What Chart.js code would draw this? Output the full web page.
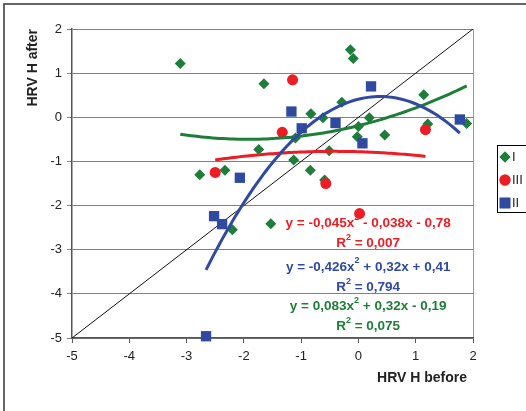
<!DOCTYPE html>
<html><head><meta charset="utf-8">
<script src="https://cdn.jsdelivr.net/npm/chart.js@4.4.0/dist/chart.umd.min.js"></script>
<style>html,body{margin:0;padding:0;background:#fff;overflow:hidden}#wrap{width:526px;height:411px;position:relative}</style>
</head><body><div id="wrap"><canvas id="c" width="526" height="411"></canvas></div>
<script>
// ---- data ----
const seriesNames = ['I', 'III', 'II'];
const xI = [-3.11, -1.65, -1.74, -2.77, -2.33, -0.14, -0.09, -0.83, -0.62, -0.29, 0.19, 0.00, -0.02, 0.46, 1.14, 1.21, 1.89, -1.10, -0.51, -1.13, -0.84, -0.59, -2.20, -1.53];
const yI = [1.22, 0.76, -0.73, -1.30, -1.20, 1.53, 1.33, 0.08, -0.01, 0.34, -0.01, -0.21, -0.44, -0.40, 0.51, -0.15, -0.14, -0.47, -0.76, -0.97, -1.20, -1.42, -2.55, -2.41];
const xIII = [-2.50, -1.15, -1.33, 1.17, -0.57, 0.02];
const yIII = [-1.25, 0.85, -0.34, -0.28, -1.50, -2.18];
const xII = [-2.07, 0.22, -1.17, -0.99, -0.40, 0.07, 1.77, -2.52, -2.38, -2.66];
const yII = [-1.37, 0.70, 0.13, -0.25, -0.13, -0.59, -0.05, -2.24, -2.42, -4.96];
// polynomial trendline coefficients shown on the chart (a, b, c)
const trendI = [0.083, 0.32, -0.19];
const trendIII = [-0.045, -0.038, -0.78];
const trendII = [-0.426, 0.32, 0.41];
const diagX = [-5, 2];
const xTicks = [-5, -4, -3, -2, -1, 0, 1, 2];
const yTicks = [-5, -4, -3, -2, -1, 0, 1, 2];
const xTitle = 'HRV H before';
const yTitle = 'HRV H after';
const eqIII = [['y = -0,045x'], ['2', 1], [' - 0,038x - 0,78']];
const r2III = [['R'], ['2', 1], [' = 0,007']];
const eqII = [['y = -0,426x'], ['2', 1], [' + 0,32x + 0,41']];
const r2II = [['R'], ['2', 1], [' = 0,794']];
const eqI = [['y = 0,083x'], ['2', 1], [' + 0,32x - 0,19']];
const r2I = [['R'], ['2', 1], [' = 0,075']];

const GREEN = '#1f7d3a', RED = '#ee1d25', BLUE = '#2f4aa0';
const FONT = '"Liberation Sans", Arial, sans-serif';

function pts(xs, ys) { return xs.map((x, i) => ({x: x, y: ys[i]})); }
function curve(coef, xs) {
  const lo = Math.min(...xs), hi = Math.max(...xs), n = 80, out = [];
  for (let i = 0; i <= n; i++) {
    const x = lo + (hi - lo) * i / n;
    out.push({x: x, y: coef[0] * x * x + coef[1] * x + coef[2]});
  }
  return out;
}

function drawRich(ctx, segs, cx, cy, color) {
  const base = 'bold 13.5px ' + FONT, sup = 'bold 9px ' + FONT;
  let w = 0;
  segs.forEach(s => { ctx.font = s[1] ? sup : base; w += ctx.measureText(s[0]).width; });
  let x = cx - w / 2;
  ctx.textBaseline = 'middle'; ctx.textAlign = 'left'; ctx.fillStyle = color;
  segs.forEach(s => {
    ctx.font = s[1] ? sup : base;
    ctx.fillText(s[0], x, s[1] ? cy - 6 : cy);
    x += ctx.measureText(s[0]).width;
  });
}

const extras = {
  id: 'extras',
  beforeDraw(chart) {
    const ctx = chart.ctx;
    ctx.save();
    ctx.fillStyle = '#fff'; ctx.fillRect(0, 0, chart.width, chart.height);
    ctx.strokeStyle = '#333'; ctx.lineWidth = 1.5;
    ctx.beginPath(); ctx.moveTo(4, chart.height + 2); ctx.lineTo(4, 4); ctx.lineTo(chart.width + 2, 4); ctx.stroke();
    const a = chart.chartArea;
    ctx.strokeStyle = '#999'; ctx.lineWidth = 1;
    ctx.beginPath(); ctx.moveTo(a.right + 0.5, a.top); ctx.lineTo(a.right + 0.5, a.bottom); ctx.stroke();
    ctx.restore();
  },
  afterDraw(chart) {
    const ctx = chart.ctx, xs = chart.scales.x, ys = chart.scales.y;
    ctx.save();
    const cx = xs.getPixelForValue(0.17);
    drawRich(ctx, eqIII, cx, ys.getPixelForValue(-2.41), RED);
    drawRich(ctx, r2III, cx, ys.getPixelForValue(-2.86), RED);
    drawRich(ctx, eqII, cx, ys.getPixelForValue(-3.39), BLUE);
    drawRich(ctx, r2II, cx, ys.getPixelForValue(-3.86), BLUE);
    drawRich(ctx, eqI, cx, ys.getPixelForValue(-4.29), GREEN);
    drawRich(ctx, r2I, cx, ys.getPixelForValue(-4.74), GREEN);
    // x axis title
    ctx.fillStyle = '#222'; ctx.font = 'bold 14px ' + FONT; ctx.textAlign = 'right'; ctx.textBaseline = 'middle';
    ctx.fillText(xTitle, chart.chartArea.right - 6, 378);
    // legend
    ctx.strokeStyle = '#000'; ctx.lineWidth = 1;
    ctx.strokeRect(497.5, 145.5, 40, 67);
    const styles = [['rectRot', GREEN, 5.5], ['circle', RED, 5.5], ['rect', BLUE, 7.5]];
    seriesNames.forEach((n, i) => {
      const y = 157 + i * 23;
      ctx.fillStyle = styles[i][1];
      Chart.helpers.drawPoint(ctx, {pointStyle: styles[i][0], radius: styles[i][2], borderWidth: 0}, 505, y);
      ctx.fill();
      ctx.fillStyle = '#222'; ctx.font = '13px ' + FONT; ctx.textBaseline = 'middle'; ctx.textAlign = 'left';
      ctx.fillText(n, 512, y);
    });
    ctx.restore();
  }
};

const pointDs = (label, data, color, style, r, order) => ({
  type: 'scatter', label: label, data: data, backgroundColor: color, borderColor: color, borderWidth: 0,
  pointStyle: style, pointRadius: r, pointHoverRadius: r, showLine: false, order: order, clip: false
});
const lineDs = (label, data, color, w, order) => ({
  type: 'line', label: label, data: data, borderColor: color, borderWidth: w, pointRadius: 0,
  fill: false, tension: 0, order: order, showLine: true
});

new Chart(document.getElementById('c'), {
  type: 'scatter',
  data: {
    datasets: [
      lineDs('diag', pts(diagX, diagX), '#111', 1, 10),
      pointDs(seriesNames[0], pts(xI, yI), GREEN, 'rectRot', 5.5, 9),
      pointDs(seriesNames[1], pts(xIII, yIII), RED, 'circle', 5.5, 8),
      pointDs(seriesNames[2], pts(xII, yII), BLUE, 'rect', 7.3, 7),
      lineDs('trend I', curve(trendI, xI), GREEN, 3, 3),
      lineDs('trend III', curve(trendIII, xIII), RED, 3, 2),
      lineDs('trend II', curve(trendII, xII), BLUE, 3, 1)
    ]
  },
  options: {
    responsive: false, animation: false, devicePixelRatio: 1,
    layout: {padding: {left: 0, top: 29, right: 53, bottom: 0}},
    plugins: {legend: {display: false}, tooltip: {enabled: false}},
    scales: {
      x: {
        type: 'linear', min: xTicks[0], max: xTicks[xTicks.length - 1],
        afterBuildTicks: s => { s.ticks = xTicks.map(v => ({value: v})); },
        afterFit: s => { s.height = 73; },
        ticks: {font: {size: 13, family: FONT}, color: '#222', padding: 6, maxRotation: 0},
        grid: {drawOnChartArea: false, drawTicks: true, tickLength: 5, color: '#555'},
        border: {display: true, color: '#555', width: 1.5},
        title: {display: false, text: xTitle}
      },
      y: {
        type: 'linear', min: yTicks[0], max: yTicks[yTicks.length - 1],
        afterBuildTicks: s => { s.ticks = yTicks.map(v => ({value: v})); },
        afterFit: s => { s.width = 72; },
        ticks: {font: {size: 13, family: FONT}, color: '#222', padding: 5},
        grid: {drawOnChartArea: true, drawTicks: true, tickLength: 5, color: '#808080'},
        border: {display: true, color: '#555', width: 1.5},
        title: {display: true, text: yTitle, align: 'end', color: '#222',
          font: {size: 14, weight: 'bold', family: FONT}, padding: {top: 25, bottom: 0}}
      }
    }
  },
  plugins: [extras]
});
</script></body></html>
